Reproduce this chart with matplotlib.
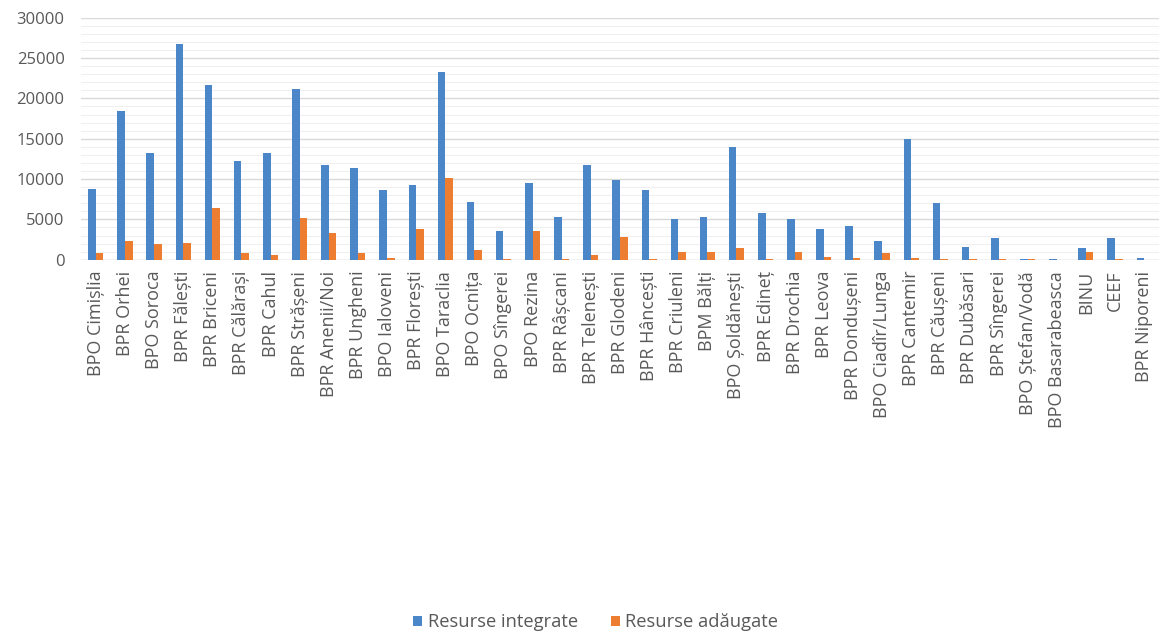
import numpy as np
import matplotlib.pyplot as plt
from matplotlib.ticker import MultipleLocator

branches = [
    "BPO Cimișlia", "BPR Orhei", "BPO Soroca", "BPR Fălești", "BPR Briceni",
    "BPR Călărași", "BPR Cahul", "BPR Strășeni", "BPR Anenii/Noi", "BPR Ungheni",
    "BPO Ialoveni", "BPR Florești", "BPO Taraclia", "BPO Ocnița", "BPO Sîngerei",
    "BPO Rezina", "BPR Râșcani", "BPR Telenești", "BPR Glodeni", "BPR Hâncești",
    "BPR Criuleni", "BPM Bălți", "BPO Șoldănești", "BPR Edineț", "BPR Drochia",
    "BPR Leova", "BPR Dondușeni", "BPO Ciadîr/Lunga", "BPR Cantemir", "BPR Căușeni",
    "BPR Dubăsari", "BPR Sîngerei", "BPO Ștefan/Vodă", "BPO Basarabeasca", "BINU",
    "CEEF", "BPR Niporeni",
]

integrate = [
    8800, 18500, 13200, 26800, 21700, 12200, 13200, 21200, 11800, 11400,
    8700, 9300, 23300, 7100, 3600, 9500, 5300, 11800, 9900, 8700,
    5100, 5300, 14000, 5800, 5100, 3800, 4200, 2300, 15000, 7000,
    1600, 2700, 150, 100, 1500, 2700, 200,
]

adaugate = [
    800, 2300, 1900, 2100, 6400, 800, 600, 5200, 3300, 800,
    200, 3800, 10100, 1200, 50, 3500, 100, 600, 2800, 100,
    900, 900, 1400, 100, 900, 300, 200, 800, 200, 50,
    50, 50, 150, 20, 900, 50, 20,
]

blue = "#4A86C8"
orange = "#ED7D31"
grey = "#595959"

fig = plt.figure(figsize=(11.61, 6.35), dpi=100)
ax = fig.add_axes([0.07, 0.591, 0.928, 0.381])

x = np.arange(len(branches))
w = 0.26
ax.bar(x - w / 2, integrate, w, color=blue, label="Resurse integrate", zorder=3)
ax.bar(x + w / 2, adaugate, w, color=orange, label="Resurse adăugate", zorder=3)

ax.set_xlim(-0.5, len(branches) - 0.5)
ax.set_ylim(0, 30000)
ax.yaxis.set_major_locator(MultipleLocator(5000))
ax.yaxis.set_minor_locator(MultipleLocator(1000))
ax.grid(axis="y", which="major", color="#D9D9D9", lw=1.0, zorder=0)
ax.grid(axis="y", which="minor", color="#EFEFEF", lw=0.8, zorder=0)
for s in ax.spines.values():
    s.set_visible(False)
ax.axhline(0, color="#D9D9D9", lw=1.0, zorder=2)

ax.set_xticks(x)
ax.set_xticklabels(branches, rotation=90, fontsize=13, color=grey, family="Open Sans")
ax.tick_params(axis="both", which="both", length=0)
ax.tick_params(axis="x", pad=8)
ax.tick_params(axis="y", labelsize=12, labelcolor=grey, pad=12)
for t in ax.get_yticklabels():
    t.set_family("Open Sans")

fig.legend(loc="center", bbox_to_anchor=(0.513, 0.02), ncol=2, frameon=False,
           prop={"family": "Open Sans", "size": 13.2}, labelcolor=grey,
           handlelength=0.5, handleheight=0.5, columnspacing=1.8, handletextpad=0.3)

fig.savefig("out.png", dpi=100)
